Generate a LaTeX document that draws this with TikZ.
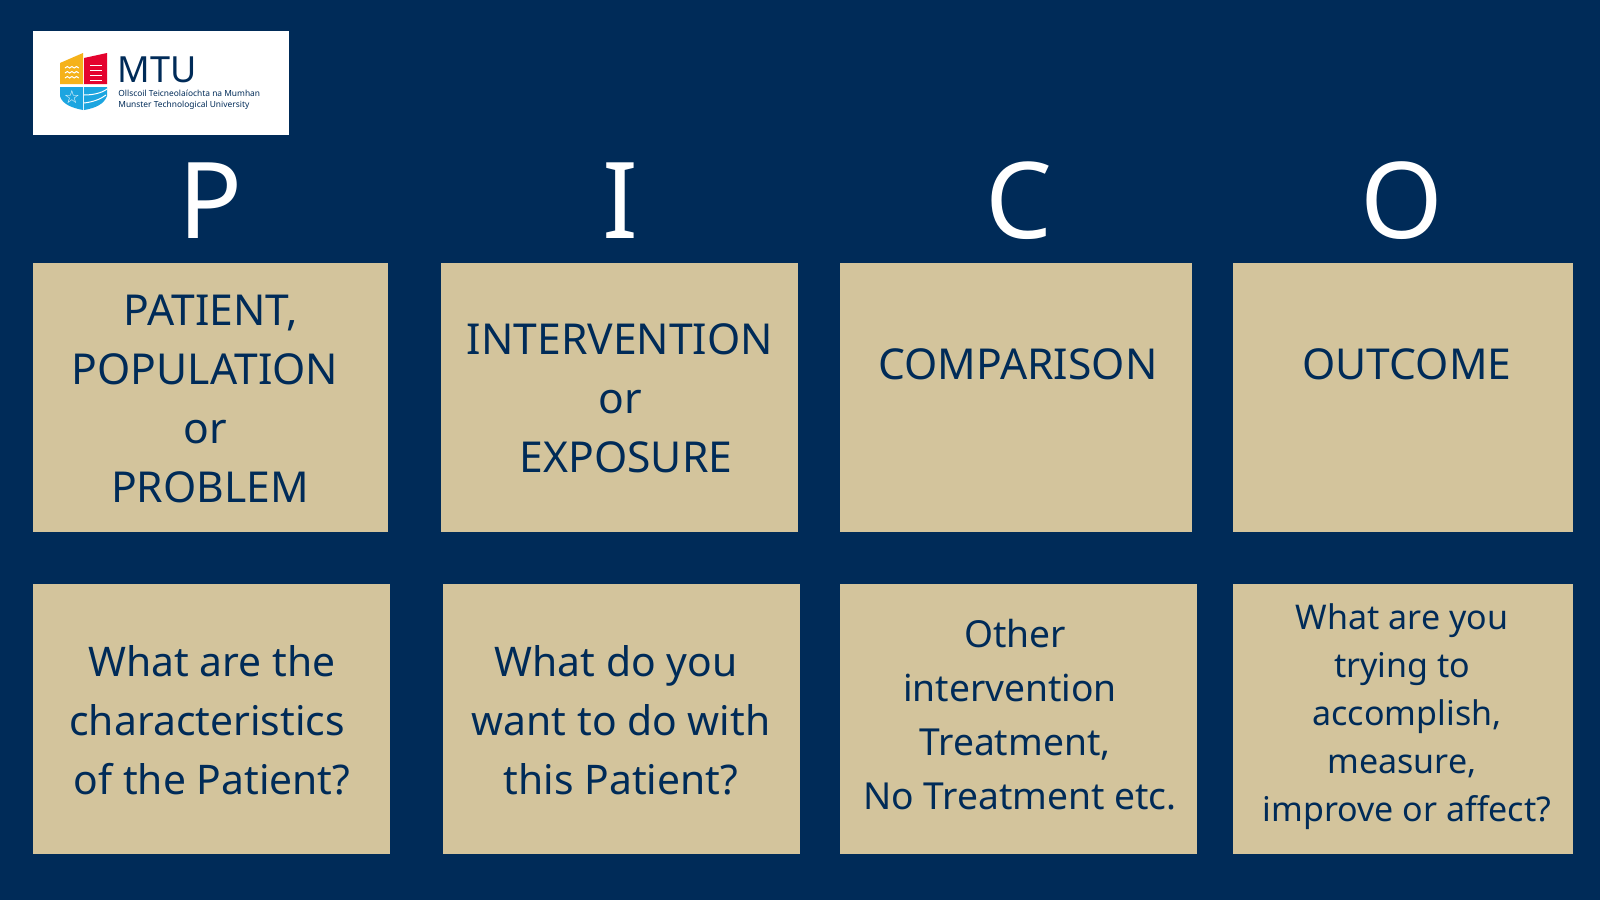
\documentclass[tikz,border=0pt]{standalone}
\usepackage{fontspec}
\setmainfont{Noto Sans}
\usepackage{tikz}
\usetikzlibrary{positioning,calc}
\definecolor{mtunavy}{HTML}{002B58}
\definecolor{mtusand}{HTML}{D3C49C}
\definecolor{mtuyellow}{HTML}{F5B21A}
\definecolor{mtured}{HTML}{E4032E}
\definecolor{mtublue}{HTML}{1CA5E0}
\newcommand{\lineshift}[1]{\hspace*{#1pt}\mbox{}}

\begin{document}
\begin{tikzpicture}[
        x=0.5pt, y=-0.5pt,
        card/.style={fill=mtusand, draw=none, inner sep=0pt, anchor=north west},
        cardtext/.style={text=mtunavy, font=\fontsize{21.3}{29.5}\selectfont\bfseries, align=center, inner sep=0pt},
        questiontext/.style={text=mtunavy, font=\fontsize{20.4}{29.5}\selectfont\bfseries, align=center, inner sep=0pt},
        othertext/.style={text=mtunavy, font=\fontsize{18.6}{27}\selectfont\bfseries, align=center, inner sep=0pt},
        smalltext/.style={text=mtunavy, font=\fontsize{17}{24}\selectfont\bfseries, align=center, inner sep=0pt},
        bigletter/.style={text=white, font=\fontsize{53}{53}\selectfont\bfseries, inner sep=0pt}
      ]
      \useasboundingbox[fill=mtunavy] (0,0) rectangle (1600,900);

      % logo
      \node[fill=white, inner sep=0pt, anchor=north west, minimum width=128pt, minimum height=52pt] (logo) at (33,31) {};
      \fill[mtuyellow] (60,63) -- (83,53) -- (83,84) -- (60,84) -- cycle;
      \fill[mtured] (84,58) -- (107,53) -- (107,84) -- (84,84) -- cycle;
      \fill[mtublue] (60,87) -- (83,87) -- (83,110) .. controls (72,108) and (62,104) .. (60,96) -- cycle;
      \fill[mtublue] (84,87) -- (107,87) -- (107,96) .. controls (104,104) and (96,108) .. (84,110) -- cycle;
      \foreach \y in {68,73,78}
        \draw[white, line width=0.5pt] (65,\y) -- ++(2.3,-1.5) -- ++(2.3,1.5) -- ++(2.3,-1.5) -- ++(2.3,1.5) -- ++(2.3,-1.5) -- ++(2.3,1.5);
      \foreach \y in {65,70,75,80}
        \draw[white, line width=0.5pt] (90,\y) -- (102,\y);
      \draw[white, line width=0.5pt] (84,95) .. controls (93,95) and (102,93) .. (107,89);
      \draw[white, line width=0.5pt] (84,103) .. controls (93,102) and (101,99) .. (106,95);
      \node[text=white, font=\fontsize{9}{9}\selectfont\fontspec{DejaVu Sans}, inner sep=0pt] (star) at (72,97) {☆};
      \node[text=mtunavy, font=\fontsize{18}{18}\selectfont\bfseries, inner sep=0pt, anchor=west] (mtu) at (117,70) {MTU};
      \node[text=mtunavy, font=\fontsize{4.2}{4.2}\selectfont\bfseries, inner sep=0pt, anchor=west] (irish) at (118,93) {Ollscoil Teicneolaíochta na Mumhan};
      \node[text=mtunavy, font=\fontsize{4.2}{4.2}\selectfont, inner sep=0pt, anchor=west] (english) at (118,105) {Munster Technological University};

      % letters
      \node[bigletter] (letterP) at (211,201) {P};
      \node[bigletter] (letterI) at (620,201) {I};
      \node[bigletter] (letterC) at (1019,201) {C};
      \node[bigletter] (letterO) at (1402,201) {O};

      % top row
      \node[card, minimum width=177.5pt, minimum height=134.5pt] (patient) at (33,263) {};
      \node[card, minimum width=178.5pt, minimum height=134.5pt] (intervention) at (441,263) {};
      \node[card, minimum width=176pt, minimum height=134.5pt] (comparison) at (840,263) {};
      \node[card, minimum width=170pt, minimum height=134.5pt] (outcome) at (1233,263) {};

      % bottom row
      \node[card, minimum width=178.5pt, minimum height=135pt] (patientq) at (33,584) {};
      \node[card, minimum width=178.5pt, minimum height=135pt] (interventionq) at (443,584) {};
      \node[card, minimum width=178.5pt, minimum height=135pt] (comparisonq) at (840,584) {};
      \node[card, minimum width=170pt, minimum height=135pt] (outcomeq) at (1233,584) {};

      % texts of the top row
      \node[cardtext] (patientlabel) at (211,399) {PATIENT,\\POPULATION\lineshift{6}\\or\lineshift{6}\\PROBLEM\lineshift{1}};
      \node[cardtext] (interventionlabel) at (620,398) {INTERVENTION\\or\\\lineshift{6}EXPOSURE};
      \node[cardtext] (comparisonlabel) at (1018,364) {COMPARISON};
      \node[cardtext] (outcomelabel) at (1407,364) {OUTCOME};

      % texts of the bottom row
      \node[questiontext] (patientqlabel) at (212,720) {What are the\\characteristics\lineshift{5}\\of the Patient?};
      \node[questiontext] (interventionqlabel) at (621,720) {What do you\lineshift{5}\\want to do with\\this Patient?};
      \node[othertext] (comparisonqlabel) at (1020,715) {Other\lineshift{5}\\intervention\lineshift{10}\\Treatment,\lineshift{5}\\No Treatment etc.};
      \node[smalltext] (outcomeqlabel) at (1402,717) {What are you\\trying to\\\lineshift{5}accomplish,\\measure,\\\lineshift{5}improve or affect?};
    \end{tikzpicture}
\end{document}
